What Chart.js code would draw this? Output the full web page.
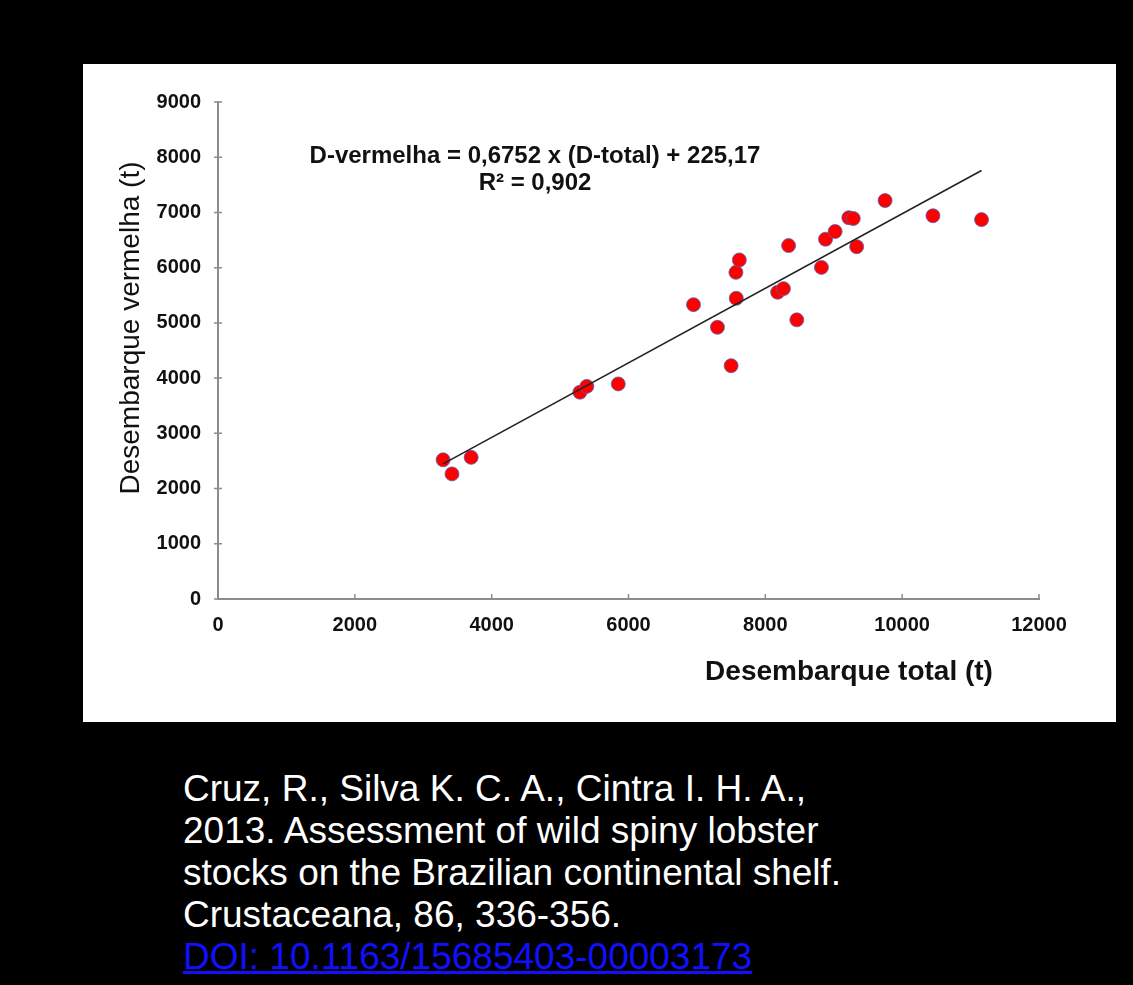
<!DOCTYPE html>
<html>
<head>
<meta charset="utf-8">
<script src="https://cdn.jsdelivr.net/npm/chart.js@4/dist/chart.umd.min.js"></script>
<style>
  html, body { margin: 0; padding: 0; background: #000; }
  body { width: 1133px; height: 985px; position: relative; overflow: hidden; }
  #panel { position: absolute; left: 83px; top: 64px; width: 1033px; height: 658px; background: #fff; }
  #panel canvas { display: block; }
  #caption {
    position: absolute; left: 183px; top: 768px;
    color: #fff; font-family: 'Liberation Sans', Arial, sans-serif;
    font-size: 37px; line-height: 42px;
  }
  #caption a { color: #1010ff; text-decoration: underline; }
</style>
</head>
<body>
<div id="panel"><canvas id="scatter" width="1033" height="658"></canvas></div>
<div id="caption">
  Cruz, R., Silva K. C. A., Cintra I. H. A.,<br>
  2013. Assessment of wild spiny lobster<br>
  stocks on the Brazilian continental shelf.<br>
  Crustaceana, 86, 336-356.<br>
  <a href="#">DOI: 10.1163/15685403-00003173</a>
</div>
<script>
// landings per year (t)
const totalLandings = [3290, 3420, 3700, 5290, 5390, 5850, 6950, 7300, 7500, 7575, 7570, 7620,
  8180, 8265, 8460, 8340, 8820, 8880, 9020, 9220, 9285, 9335, 9750, 10450, 11160];
const redLandings = [2520, 2265, 2565, 3745, 3850, 3895, 5330, 4920, 4225, 5445, 5915, 6140,
  5555, 5620, 5055, 6400, 6005, 6515, 6655, 6905, 6890, 6380, 7215, 6940, 6870];

const xTicks = [0, 2000, 4000, 6000, 8000, 10000, 12000];
const yTicks = [0, 1000, 2000, 3000, 4000, 5000, 6000, 7000, 8000, 9000];

// regression printed on the chart
const slope = 0.6752;
const intercept = 225.17;
const equationText = 'D-vermelha = 0,6752 x (D-total) + 225,17';
const r2Text = 'R² = 0,902';

const xTitle = 'Desembarque total (t)';
const yTitle = 'Desembarque vermelha (t)';

const fontFamily = "'Liberation Sans', Arial, sans-serif";
const axisColor = '#8c8c8c';

const points = totalLandings.map((x, i) => ({ x, y: redLandings[i] }));
const xMin = Math.min(...totalLandings);
const xMax = Math.max(...totalLandings);
const trend = [
  { x: xMin, y: slope * xMin + intercept },
  { x: xMax, y: slope * xMax + intercept },
];

const decorations = {
  id: 'decorations',
  afterDraw(chart) {
    const { ctx, chartArea, scales: { x, y } } = chart;
    ctx.save();

    // tick marks: inside on x, crossing on y
    ctx.strokeStyle = axisColor;
    ctx.lineWidth = 1.5;
    ctx.beginPath();
    xTicks.forEach(v => {
      const px = x.getPixelForValue(v);
      ctx.moveTo(px, chartArea.bottom);
      ctx.lineTo(px, chartArea.bottom - 5);
    });
    yTicks.forEach(v => {
      const py = y.getPixelForValue(v);
      ctx.moveTo(chartArea.left - 4, py);
      ctx.lineTo(chartArea.left + 4, py);
    });
    ctx.stroke();

    ctx.fillStyle = '#111';
    ctx.textAlign = 'center';
    ctx.textBaseline = 'middle';

    // regression label
    ctx.font = 'bold 24px ' + fontFamily;
    ctx.fillText(equationText, chartArea.left + 317, chartArea.top + 54);
    ctx.fillText(r2Text, chartArea.left + 317, chartArea.top + 81);

    // x title, sits right of centre like the original
    ctx.font = 'bold 28px ' + fontFamily;
    ctx.fillText(xTitle, chartArea.left + 631, chartArea.bottom + 73);

    // y title
    ctx.font = '28px ' + fontFamily;
    ctx.translate(48, chartArea.top + 226);
    ctx.rotate(-Math.PI / 2);
    ctx.fillText(yTitle, 0, 0);

    ctx.restore();
  }
};

const tickFont = { family: fontFamily, size: 20, weight: 'bold' };

new Chart(document.getElementById('scatter'), {
  type: 'scatter',
  data: {
    datasets: [
      {
        type: 'line',
        data: trend,
        borderColor: '#222',
        borderWidth: 1.6,
        pointRadius: 0,
        fill: false,
        order: 0,
      },
      {
        data: points,
        backgroundColor: '#ff0000',
        borderColor: 'rgba(80, 100, 180, 0.8)',
        borderWidth: 1,
        pointRadius: 7,
        order: 1,
      },
    ],
  },
  options: {
    responsive: false,
    animation: false,
    devicePixelRatio: 1,
    layout: { padding: { left: 0, right: 77, top: 38, bottom: 0 } },
    plugins: {
      legend: { display: false },
      tooltip: { enabled: false },
    },
    scales: {
      x: {
        type: 'linear',
        min: 0,
        max: 12000,
        afterBuildTicks: scale => { scale.ticks = xTicks.map(value => ({ value })); },
        afterFit: scale => { scale.height = 123; },
        border: { display: true, color: axisColor, width: 2 },
        grid: { drawOnChartArea: false, drawTicks: false },
        ticks: { color: '#111', font: tickFont, padding: 14, callback: v => String(v) },
      },
      y: {
        type: 'linear',
        min: 0,
        max: 9000,
        afterBuildTicks: scale => { scale.ticks = yTicks.map(value => ({ value })); },
        afterFit: scale => { scale.width = 135; },
        border: { display: true, color: axisColor, width: 2 },
        grid: { drawOnChartArea: false, drawTicks: false },
        ticks: { color: '#111', font: tickFont, padding: 17, callback: v => String(v) },
      },
    },
  },
  plugins: [decorations],
});
</script>
</body>
</html>
